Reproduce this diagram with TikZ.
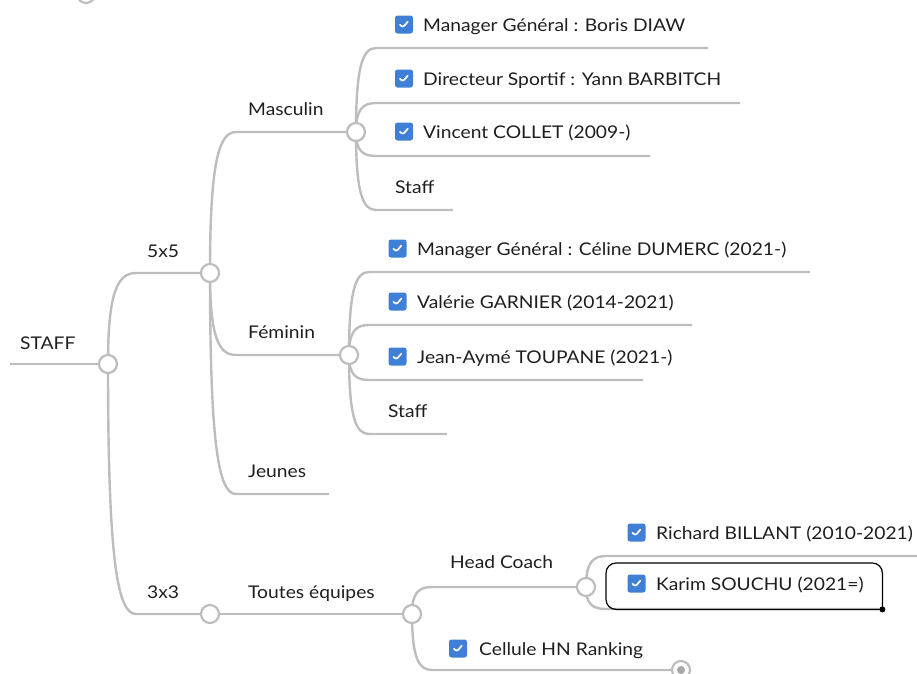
\documentclass[tikz,border=0pt]{standalone}
\usepackage{fontspec}
\setmainfont{Lato}[FakeStretch=1.1]
\usetikzlibrary{calc,backgrounds}
\definecolor{ln}{HTML}{BDBDBD}
\definecolor{dotc}{HTML}{A8A8A8}
\definecolor{cb}{HTML}{3F7FD6}
\definecolor{tx}{HTML}{1E1E1E}
\tikzset{
 lbl/.style={anchor=base west, inner sep=0pt, text=tx, font=\fontsize{17.5}{20}\selectfont},
 hub/.style={circle, draw=ln, fill=white, line width=2.2pt, minimum size=18pt, inner sep=0pt},
 br/.style={draw=ln, line width=2.4pt},
 xbend/.style={to path={.. controls ($(\tikztostart)!0.78!(\tikztostart|-\tikztotarget)$) and ($(\tikztotarget)!0.67!(\tikztostart|-\tikztotarget)$) .. (\tikztotarget)}},
 chk/.style={rectangle, rounded corners=2.5pt, fill=cb, minimum size=18pt, inner sep=0pt,
   path picture={\draw[white, line width=1.7pt, line cap=round, line join=round]
     ($(path picture bounding box.center)+(-4,0.3)$) -- ++(2.8,2.8) -- ++(5,-6);}}
}
\begin{document}
\begin{tikzpicture}[x=1pt,y=-1pt]
\useasboundingbox (0,0) rectangle (917,673);
% hubs
\node[hub] (hX) at (86,-6) {};
\node[hub] (hS) at (108,364) {};
\node[hub] (h55) at (210,273) {};
\node[hub] (h33) at (210,614) {};
\node[hub] (hM) at (356,132) {};
\node[hub] (hF) at (349,355) {};
\node[hub] (hT) at (412,614) {};
\node[hub] (hH) at (586,587) {};
\node[hub] (hC) at (681,670) {};
\node[circle, fill=dotc, minimum size=8pt, inner sep=0pt] (hCd) at (hC.center) {};
% coordinates
\coordinate (sL) at (10,364);
\coordinate (a55) at (136,273); \coordinate (a33) at (136,614);
\coordinate (aM) at (236,132); \coordinate (aF) at (236,355);
\coordinate (aJ) at (236,494); \coordinate (eJ) at (329,494);
\coordinate (aM1) at (376,48);  \coordinate (eM1) at (708,48);
\coordinate (aM2) at (376,103); \coordinate (eM2) at (740,103);
\coordinate (aM3) at (376,156); \coordinate (eM3) at (650,156);
\coordinate (aM4) at (376,210); \coordinate (eM4) at (453,210);
\coordinate (aF1) at (369,272); \coordinate (eF1) at (810,272);
\coordinate (aF2) at (369,325); \coordinate (eF2) at (692,325);
\coordinate (aF3) at (369,380); \coordinate (eF3) at (643,380);
\coordinate (aF4) at (369,434); \coordinate (eF4) at (447,434);
\coordinate (aH) at (432,587);
\coordinate (aC) at (432,670);
\coordinate (aR) at (606,556); \coordinate (eR) at (917,556);
\coordinate (aK) at (606,609); \coordinate (eK) at (882,609);
% connectors
\begin{scope}[on background layer]
\draw[br] (sL) -- (hS.center);
\draw[br] (hS.center) to[xbend] (a55) -- (h55.center);
\draw[br] (hS.center) to[xbend] (a33) -- (h33.center);
\draw[br] (h55.center) to[xbend] (aM) -- (hM.center);
\draw[br] (h55.center) to[xbend] (aF) -- (hF.center);
\draw[br] (h55.center) to[xbend] (aJ) -- (eJ);
\draw[br] (hM.center) to[xbend] (aM1) -- (eM1);
\draw[br] (hM.center) to[xbend] (aM2) -- (eM2);
\draw[br] (hM.center) to[xbend] (aM3) -- (eM3);
\draw[br] (hM.center) to[xbend] (aM4) -- (eM4);
\draw[br] (hF.center) to[xbend] (aF1) -- (eF1);
\draw[br] (hF.center) to[xbend] (aF2) -- (eF2);
\draw[br] (hF.center) to[xbend] (aF3) -- (eF3);
\draw[br] (hF.center) to[xbend] (aF4) -- (eF4);
\draw[br] (h33.center) -- (hT.center);
\draw[br] (hT.center) to[xbend] (aH) -- (hH.center);
\draw[br] (hT.center) to[xbend] (aC) -- (hC.center);
\draw[br] (hH.center) to[xbend] (aR) -- (eR);
\draw[br] (hH.center) to[xbend] (aK) -- (eK);
\end{scope}
% Karim box (sharp lower-right corner with a handle dot)
\node[minimum width=276pt, minimum height=46pt, anchor=north west, inner sep=0pt] (kbox) at (606,563) {};
\draw[black, line width=1.2pt, line cap=round, rounded corners=10pt]
  (kbox.south east) -- (kbox.north east) -- (kbox.north west) -- (kbox.south west) -- ([xshift=-0.1pt]kbox.south east);
\node[circle, fill=black, minimum size=6pt, inner sep=0pt] (kdot) at (kbox.south east) {};
% labels
\node[lbl] (tS) at (20,349) {STAFF};
\node[lbl] (t55) at (147,257) {5x5};
\node[lbl] (t33) at (147,598) {3x3};
\node[lbl] (tM) at (248,115) {Masculin};
\node[lbl] (tF) at (248,338) {Féminin};
\node[lbl] (tJ) at (248,477) {Jeunes};
\node[lbl] (tT) at (248,598) {Toutes équipes};
\node[lbl] (tH) at (450,568) {Head Coach};
% masculin leaves
\node[chk] (kM1) at (404,24.5) {}; \node[lbl] (tM1) at (423,31) {Manager Général : Boris DIAW};
\node[chk] (kM2) at (404,78.5) {}; \node[lbl] (tM2) at (423,85) {Directeur Sportif : Yann BARBITCH};
\node[chk] (kM3) at (404,131.5) {}; \node[lbl] (tM3) at (423,138) {Vincent COLLET (2009-)};
\node[lbl] (tM4) at (395,193) {Staff};
% feminin leaves
\node[chk] (kF1) at (397.5,248.5) {}; \node[lbl] (tF1) at (417,255) {Manager Général : Céline DUMERC (2021-)};
\node[chk] (kF2) at (397.5,301.5) {}; \node[lbl] (tF2) at (417,308) {Valérie GARNIER (2014-2021)};
\node[chk] (kF3) at (397.5,356.5) {}; \node[lbl] (tF3) at (417,363) {Jean-Aymé TOUPANE (2021-)};
\node[lbl] (tF4) at (388,417) {Staff};
% 3x3 leaves
\node[chk] (kR) at (636.5,532.5) {}; \node[lbl] (tR) at (656,539) {Richard BILLANT (2010-2021)};
\node[chk] (kK) at (636.5,583.5) {}; \node[lbl] (tK) at (656,590) {Karim SOUCHU (2021=)};
\node[chk] (kC) at (458,648.5) {}; \node[lbl] (tC) at (479,655) {Cellule HN Ranking};
\end{tikzpicture}
\end{document}
